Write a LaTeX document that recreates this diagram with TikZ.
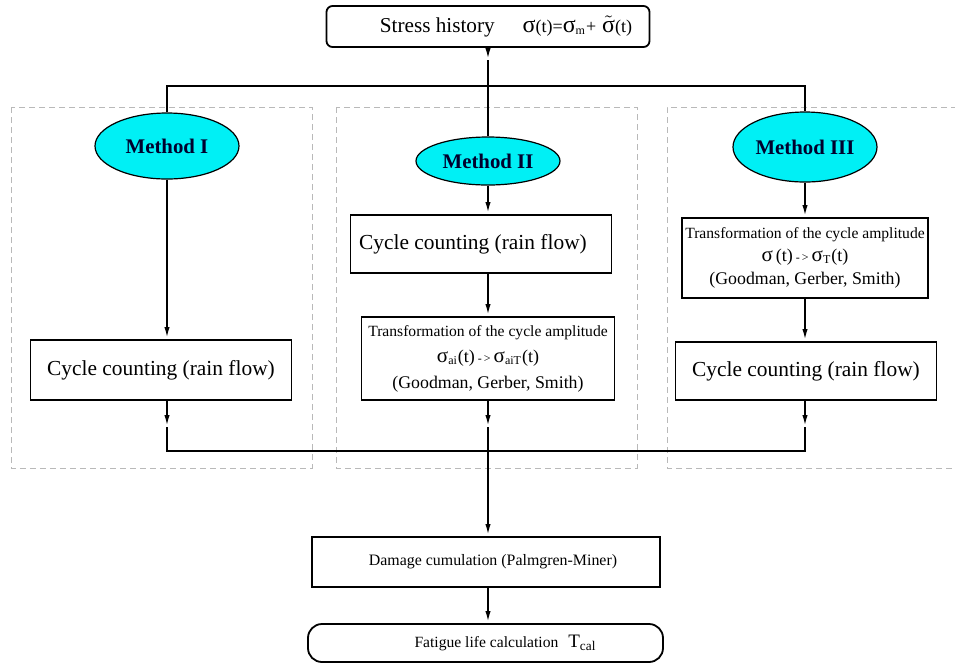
\documentclass[tikz,border=0pt]{standalone}
\usepackage{fontspec}
\setmainfont{Liberation Serif}
\usetikzlibrary{arrows.meta,shapes.geometric}
\definecolor{methodfill}{RGB}{0,240,245}
\definecolor{methodtext}{RGB}{0,0,45}
\newcommand{\sgm}[1][11]{{\fontsize{#1}{#1}\selectfont σ}}
\begin{document}
\begin{tikzpicture}[x=0.5pt,y=-0.5pt,line width=1pt,
  arr/.style={-{Latex[length=6pt,width=2.6pt]}},
  grp/.style={gray!55,line width=0.5pt,dash pattern=on 3pt off 2pt},
  stage/.style={draw,line width=0.9pt,fill=white,inner sep=1pt,align=center},
  method/.style={ellipse,draw,line width=0.6pt,fill=methodfill,text=methodtext,
    font=\fontsize{10.4}{12}\selectfont\bfseries,inner sep=0pt,minimum width=72pt}]
\useasboundingbox (0,0) rectangle (955,666);
% dashed frames of the three methods
\draw[grp] (11,107) rectangle (312,468);
\draw[grp] (336,107) rectangle (637,468);
\draw[grp] (957,107) -- (667,107) -- (667,468) -- (957,468);
% input
\node[stage,rounded corners=3pt,minimum width=161.5pt,minimum height=20.5pt,
  font=\fontsize{10.6}{12}\selectfont] (hist) at (488,26.5)
  {\hspace*{18pt}Stress history\hspace{14pt}\sgm[12]{\fontsize{9}{12}\selectfont(t)=}\sgm[12]{\fontsize{9}{12}\selectfont\textsubscript{m}+}\hspace{3pt}\raisebox{0pt}{$\tilde{\mbox{\sgm[12]}}$}{\fontsize{9}{12}\selectfont(t)}};
% methods
\node[method,minimum height=33pt] (m1) at (167,146) {Method I};
\node[method,minimum height=24pt] (m2) at (488,161) {Method II};
\node[method,minimum height=35pt] (m3) at (805,147) {Method III};
% Method I
\node[stage,minimum width=130.5pt,minimum height=30pt,font=\fontsize{10.7}{12}\selectfont]
  (cc1) at (161,370) {Cycle counting (rain flow)};
% Method II
\node[stage,minimum width=130.5pt,minimum height=29pt,font=\fontsize{10.7}{12}\selectfont]
  (cc2) at (481,244) {Cycle counting (rain flow)\hspace*{8pt}};
\node[stage,minimum width=126.5pt,minimum height=41.5pt,font=\fontsize{7.8}{13}\selectfont]
  (tr2) at (488,358.5) {Transformation of the cycle amplitude\\
  {\fontsize{9}{13}\selectfont\sgm[10.5]\textsubscript{ai}(t)\,{\fontsize{6}{13}\selectfont -\,>}\,\sgm[10.5]\textsubscript{aiT}(t)}\\
  {\fontsize{8.9}{13}\selectfont (Goodman, Gerber, Smith)}};
% Method III
\node[stage,minimum width=123pt,minimum height=40pt,font=\fontsize{7.8}{11.5}\selectfont]
  (tr3) at (805,258) {Transformation of the cycle amplitude\\
  {\fontsize{9}{11.5}\selectfont\sgm[10.5]\,(t)\,{\fontsize{6}{11.5}\selectfont -\,>}\,\sgm[10.5]\textsubscript{T}(t)}\\
  {\fontsize{8.9}{11.5}\selectfont (Goodman, Gerber, Smith)}};
\node[stage,minimum width=130.5pt,minimum height=29pt,font=\fontsize{10.7}{12}\selectfont]
  (cc3) at (806,371) {Cycle counting (rain flow)};
% output
\node[stage,minimum width=174pt,minimum height=25pt,font=\fontsize{7.95}{10}\selectfont]
  (dam) at (486,562) {\hspace*{7pt}Damage cumulation (Palmgren-Miner)};
\node[stage,rounded corners=7pt,minimum width=177.5pt,minimum height=19pt,font=\fontsize{7.8}{10}\selectfont]
  (life) at (485.5,643) {\hspace*{20pt}Fatigue life calculation\hspace{5pt}{\fontsize{9.5}{10}\selectfont T\textsubscript{cal}}};
% junctions
\coordinate (in2) at (488,60);
\coordinate (split) at (488,86);
\coordinate (out1) at (167,427);
\coordinate (out2) at (488,427);
\coordinate (out3) at (805,427);
\coordinate (merge) at (488,451);
% connectors
\draw[arr] (hist.south) -- (in2);
\draw (in2) -- (m2.north);
\draw (m1.north) |- (split) -| (m3.north);
\draw[arr] (m1.south) -- (m1.south |- cc1.north);
\draw[arr] (m1.south |- cc1.south) -- (out1);
\draw[arr] (m2.south) -- (m2.south |- cc2.north);
\draw[arr] (m2.south |- cc2.south) -- (m2.south |- tr2.north);
\draw[arr] (m2.south |- tr2.south) -- (out2);
\draw[arr] (m3.south) -- (m3.south |- tr3.north);
\draw[arr] (m3.south |- tr3.south) -- (m3.south |- cc3.north);
\draw[arr] (m3.south |- cc3.south) -- (out3);
\draw (out1) |- (merge) -| (out3);
\draw[arr] (out2) -- (out2 |- dam.north);
\draw[arr] (out2 |- dam.south) -- (out2 |- life.north);
\end{tikzpicture}
\end{document}
